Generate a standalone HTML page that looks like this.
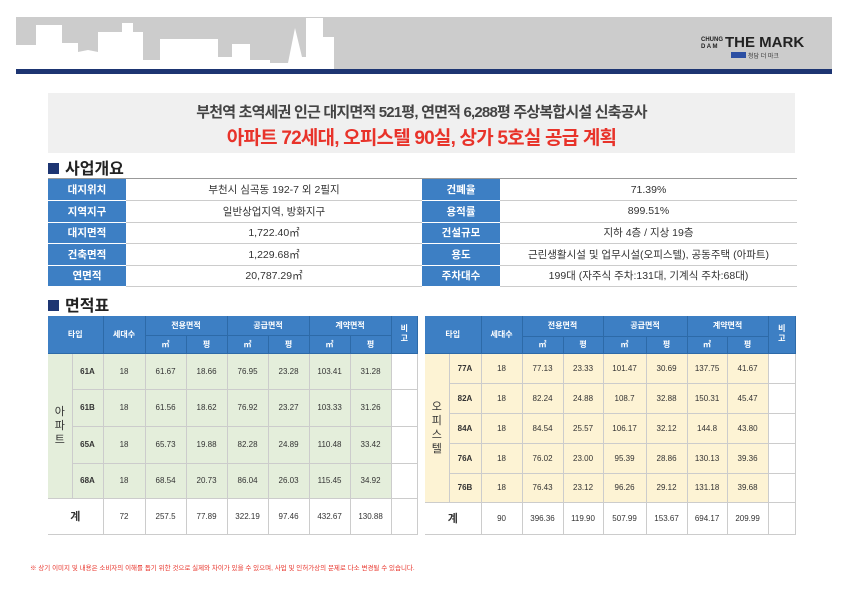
<!DOCTYPE html>
<html><head><meta charset="utf-8"><style>
*{margin:0;padding:0;box-sizing:border-box}
body{width:842px;height:595px;background:#fff;position:relative;overflow:hidden;font-family:"Liberation Sans","Noto Sans CJK KR",sans-serif;color:#333}
.abs{position:absolute}
table{border-collapse:collapse;position:absolute;table-layout:fixed}
td{text-align:center;vertical-align:middle;padding:0;overflow:hidden;white-space:nowrap}
.ov td{height:21.5px;font-size:10.5px;border-bottom:1px solid #fff}
.ov td.l{background:#3d7fc4;color:#fff;font-weight:bold;border-bottom:1px solid #fff}
.ov td.v{border-bottom:1px solid #ccc}
.ar td{font-size:8px;border-right:1px solid #ccc;border-bottom:1px solid #ccc}
.ar td.h{background:#3d7fc4;color:#fff;font-weight:bold;border-right:1px solid #2d6aa8;border-bottom:1px solid #2d6aa8}
.ar td.b{font-weight:bold}
.g td.c{background:#e4eedb}
.y td.c{background:#fdf3d4}
.h2{font-size:16px;font-weight:bold;color:#222}
.sq{display:inline-block;width:11px;height:11px;background:#1d3572;margin-right:6px;vertical-align:0px}
</style></head><body>
<div class="abs" style="left:16px;top:17px;width:816px;height:52px;background:#cccccc"></div>
<svg class="abs" style="left:16px;top:17px" width="360" height="52">
<path fill="#fff" d="M0 28 H20 V8 H46 V26 H62 V35 L72 33 L82 35 V15 H106 V6 H117 V15 H127 V43 H144 V22 H202 V40 H216 V27 H234 V43 H254 V46 H272 L279 11 L286 40 H290 V1 H307 V20 H318 V52 H0Z"/>
</svg>
<div class="abs" style="left:16px;top:69px;width:816px;height:5px;background:#1d3572"></div>
<div class="abs" style="left:701px;top:37px;font-size:6px;line-height:7px;color:#222;font-weight:bold">CHUNG<br>D A M</div>
<div class="abs" style="left:725px;top:34px;font-size:15px;font-weight:bold;letter-spacing:0px;color:#222">THE MARK</div>
<div class="abs" style="left:731px;top:52px;width:15px;height:6px;background:#2c4fa3"></div>
<div class="abs" style="left:748px;top:51px;font-size:6px;color:#333">청담 더 마크</div>

<div class="abs" style="left:48px;top:93px;width:747px;height:60px;background:#f0f0f0"></div>
<div class="abs" style="left:48px;top:101px;width:747px;text-align:center;font-size:15px;font-weight:bold;color:#444;letter-spacing:-0.8px">부천역 초역세권 인근 대지면적 521평, 연면적 6,288평 주상복합시설 신축공사</div>
<div class="abs" style="left:48px;top:123px;width:747px;text-align:center;font-size:19px;font-weight:bold;color:#e8332a;letter-spacing:-0.8px">아파트 72세대, 오피스텔 90실, 상가 5호실 공급 계획</div>

<div class="abs h2" style="left:48px;top:155px"><span class="sq"></span>사업개요</div>
<div class="abs" style="left:48px;top:178px;width:749px;height:1px;background:#999"></div>
<table class="ov" style="left:48px;top:179px;width:749px">
<col style="width:78px"><col style="width:296px"><col style="width:78px"><col>
<tr><td class="l">대지위치</td><td class="v">부천시 심곡동 192-7 외 2필지</td><td class="l">건폐율</td><td class="v">71.39%</td></tr>
<tr><td class="l">지역지구</td><td class="v">일반상업지역, 방화지구</td><td class="l">용적률</td><td class="v">899.51%</td></tr>
<tr><td class="l">대지면적</td><td class="v">1,722.40㎡</td><td class="l">건설규모</td><td class="v">지하 4층 / 지상 19층</td></tr>
<tr><td class="l">건축면적</td><td class="v">1,229.68㎡</td><td class="l">용도</td><td class="v">근린생활시설 및 업무시설(오피스텔), 공동주택 (아파트)</td></tr>
<tr><td class="l">연면적</td><td class="v">20,787.29㎡</td><td class="l">주차대수</td><td class="v">199대 (자주식 주차:131대, 기계식 주차:68대)</td></tr>
</table>

<div class="abs h2" style="left:48px;top:292px"><span class="sq"></span>면적표</div>

<table class="ar g" style="left:48px;top:316px;width:370px">
<col style="width:24px"><col style="width:31px"><col style="width:42px"><col style="width:41px"><col style="width:41px"><col style="width:41px"><col style="width:41px"><col style="width:41px"><col style="width:41px"><col>
<tr style="height:19px"><td class="h" colspan="2" rowspan="2">타입</td><td class="h" rowspan="2">세대수</td><td class="h" colspan="2">전용면적</td><td class="h" colspan="2">공급면적</td><td class="h" colspan="2">계약면적</td><td class="h" rowspan="2" style="line-height:10px">비<br>고</td></tr>
<tr style="height:18px"><td class="h">㎡</td><td class="h">평</td><td class="h">㎡</td><td class="h">평</td><td class="h">㎡</td><td class="h">평</td></tr>
<tr style="height:36px"><td class="c" rowspan="4" style="font-size:11px;line-height:14px">아<br>파<br>트</td><td class="c b">61A</td><td class="c">18</td><td class="c">61.67</td><td class="c">18.66</td><td class="c">76.95</td><td class="c">23.28</td><td class="c">103.41</td><td class="c">31.28</td><td></td></tr>
<tr style="height:37px"><td class="c b">61B</td><td class="c">18</td><td class="c">61.56</td><td class="c">18.62</td><td class="c">76.92</td><td class="c">23.27</td><td class="c">103.33</td><td class="c">31.26</td><td></td></tr>
<tr style="height:37px"><td class="c b">65A</td><td class="c">18</td><td class="c">65.73</td><td class="c">19.88</td><td class="c">82.28</td><td class="c">24.89</td><td class="c">110.48</td><td class="c">33.42</td><td></td></tr>
<tr style="height:35px"><td class="c b">68A</td><td class="c">18</td><td class="c">68.54</td><td class="c">20.73</td><td class="c">86.04</td><td class="c">26.03</td><td class="c">115.45</td><td class="c">34.92</td><td></td></tr>
<tr style="height:36px"><td colspan="2" style="font-size:11px;font-weight:bold">계</td><td>72</td><td>257.5</td><td>77.89</td><td>322.19</td><td>97.46</td><td>432.67</td><td>130.88</td><td></td></tr>
</table>

<table class="ar y" style="left:425px;top:316px;width:371px">
<col style="width:24px"><col style="width:32px"><col style="width:41px"><col style="width:41px"><col style="width:40px"><col style="width:43px"><col style="width:41px"><col style="width:40px"><col style="width:41px"><col>
<tr style="height:20px"><td class="h" colspan="2" rowspan="2">타입</td><td class="h" rowspan="2">세대수</td><td class="h" colspan="2">전용면적</td><td class="h" colspan="2">공급면적</td><td class="h" colspan="2">계약면적</td><td class="h" rowspan="2" style="line-height:10px">비<br>고</td></tr>
<tr style="height:17px"><td class="h">㎡</td><td class="h">평</td><td class="h">㎡</td><td class="h">평</td><td class="h">㎡</td><td class="h">평</td></tr>
<tr style="height:30px"><td class="c" rowspan="5" style="font-size:11px;line-height:14px">오<br>피<br>스<br>텔</td><td class="c b">77A</td><td class="c">18</td><td class="c">77.13</td><td class="c">23.33</td><td class="c">101.47</td><td class="c">30.69</td><td class="c">137.75</td><td class="c">41.67</td><td></td></tr>
<tr style="height:30px"><td class="c b">82A</td><td class="c">18</td><td class="c">82.24</td><td class="c">24.88</td><td class="c">108.7</td><td class="c">32.88</td><td class="c">150.31</td><td class="c">45.47</td><td></td></tr>
<tr style="height:30px"><td class="c b">84A</td><td class="c">18</td><td class="c">84.54</td><td class="c">25.57</td><td class="c">106.17</td><td class="c">32.12</td><td class="c">144.8</td><td class="c">43.80</td><td></td></tr>
<tr style="height:30px"><td class="c b">76A</td><td class="c">18</td><td class="c">76.02</td><td class="c">23.00</td><td class="c">95.39</td><td class="c">28.86</td><td class="c">130.13</td><td class="c">39.36</td><td></td></tr>
<tr style="height:29px"><td class="c b">76B</td><td class="c">18</td><td class="c">76.43</td><td class="c">23.12</td><td class="c">96.26</td><td class="c">29.12</td><td class="c">131.18</td><td class="c">39.68</td><td></td></tr>
<tr style="height:32px"><td colspan="2" style="font-size:11px;font-weight:bold">계</td><td>90</td><td>396.36</td><td>119.90</td><td>507.99</td><td>153.67</td><td>694.17</td><td>209.99</td><td></td></tr>
</table>

<div class="abs" style="left:30px;top:562px;font-size:6.5px;color:#e8332a">※ 상기 이미지 및 내용은 소비자의 이해를 돕기 위한 것으로 실제와 차이가 있을 수 있으며, 사업 및 인허가상의 문제로 다소 변경될 수 있습니다.</div>
</body></html>
